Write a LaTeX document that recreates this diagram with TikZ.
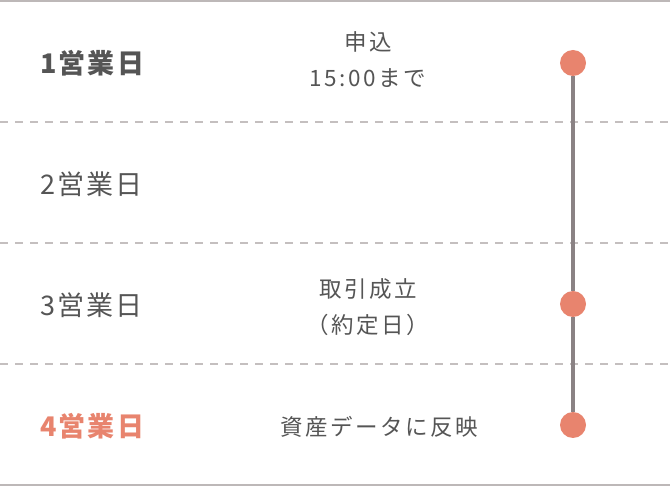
\documentclass[tikz,border=0pt]{standalone}
\usepackage{fontspec}
\setmainfont{Noto Sans CJK JP}
\newfontfamily\dayfont[LetterSpace=8]{Noto Sans CJK JP}
\newfontfamily\notefont[LetterSpace=11]{Noto Sans CJK JP}
\usetikzlibrary{positioning}
\definecolor{TextGray}{HTML}{555555}
\definecolor{RuleGray}{HTML}{BDB8B8}
\definecolor{StemGray}{HTML}{8A8284}
\definecolor{Salmon}{HTML}{E8846E}

\begin{document}
\begin{tikzpicture}[x=1pt, y=-1pt,
      day/.style={anchor=west, inner sep=0pt, text=TextGray,
                  font=\dayfont\fontsize{27}{30}\selectfont},
      today/.style={day, font=\dayfont\bfseries\fontsize{27}{30}\selectfont},
      note/.style={align=center, inner sep=0pt, text=TextGray,
                   font=\notefont\fontsize{22.5}{36}\selectfont},
      dot/.style={circle, fill=Salmon, minimum size=26pt, inner sep=0pt},
      stem/.style={StemGray, line width=4pt},
      rule/.style={RuleGray, line width=2pt},
      sep/.style={RuleGray!90, line width=1.5pt, dash pattern=on 8pt off 7pt},
    ]
      \useasboundingbox (0,0) rectangle (670,486);
      % frame and row separators
      \draw[rule] (0,1) -- (670,1);
      \draw[rule] (0,485) -- (670,485);
      \draw[sep] (0,122) -- (670,122);
      \draw[sep] (0,243) -- (670,243);
      \draw[sep] (0,364) -- (670,364);
      % days
      \node[today] (d1) at (40,63) {1営業日};
      \node[day] (d2) at (40,184) {2営業日};
      \node[day] (d3) at (40,305) {3営業日};
      \node[today, text=Salmon] (d4) at (40,426) {4営業日};
      % events
      \node[note] (n1) at (368,60) {申込\\15:00まで};
      \node[note] (n3) at (368,307) {取引成立\\（約定日）};
      \node[note] (n4) at (379,427) {資産データに反映};
      % timeline
      \node[dot] (p1) at (573,63) {};
      \node[dot] (p3) at (573,304) {};
      \node[dot] (p4) at (573,425) {};
      \draw[stem] (p1) -- (p3);
      \draw[stem] (p3) -- (p4);
    \end{tikzpicture}
\end{document}
